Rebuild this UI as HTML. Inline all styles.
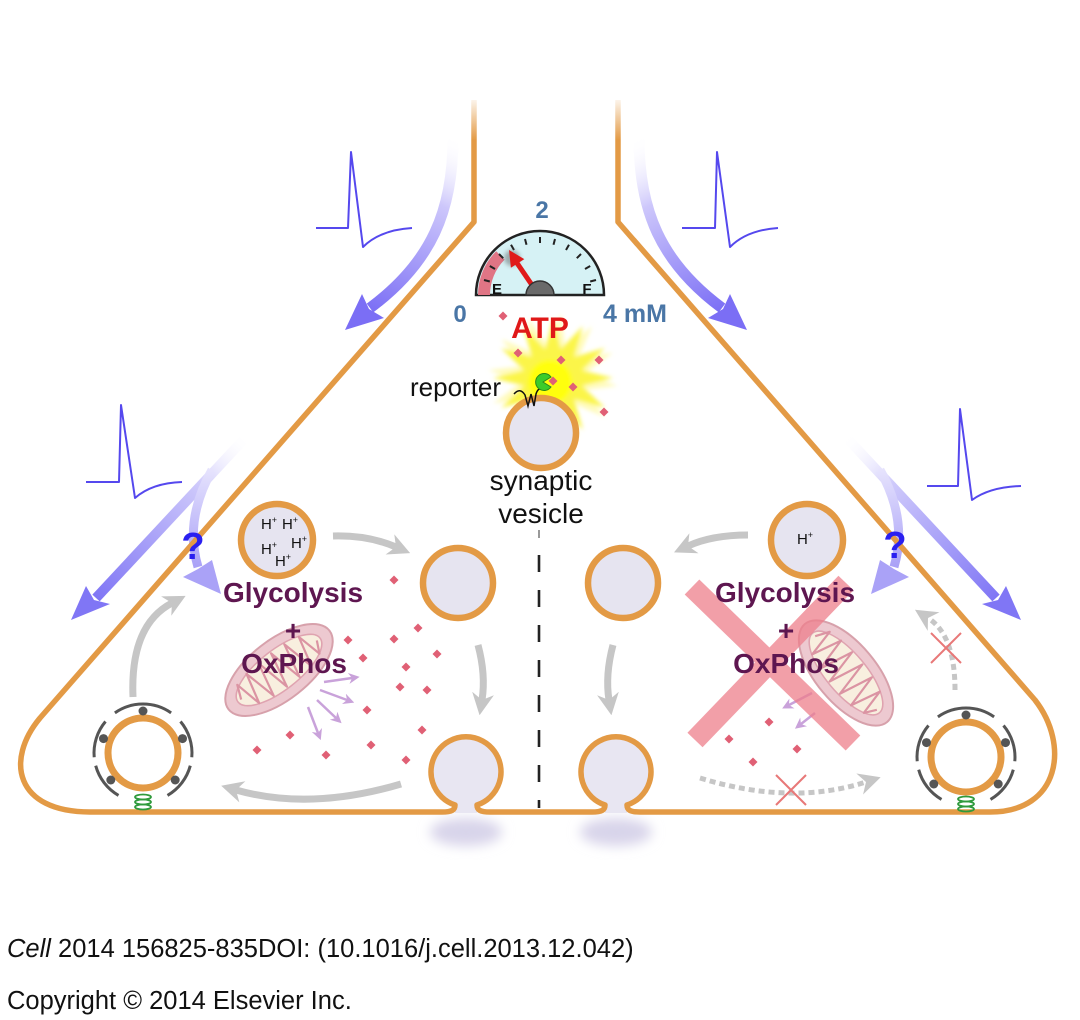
<!DOCTYPE html>
<html><head><meta charset="utf-8">
<style>
html,body{margin:0;padding:0;background:#fff;}
svg{display:block;}
text{font-family:"Liberation Sans",Arial,sans-serif;}
</style></head><body>
<svg width="1080" height="1020" viewBox="0 0 1080 1020" xmlns="http://www.w3.org/2000/svg">
<defs>
  <linearGradient id="gTL" gradientUnits="userSpaceOnUse" x1="453" y1="135" x2="370" y2="312">
    <stop offset="0" stop-color="#ffffff" stop-opacity="0"/>
    <stop offset="0.35" stop-color="#cdc7fb"/>
    <stop offset="1" stop-color="#7b6ef5"/>
  </linearGradient>
  <linearGradient id="gLL" gradientUnits="userSpaceOnUse" x1="247" y1="436" x2="96" y2="598">
    <stop offset="0" stop-color="#ffffff" stop-opacity="0"/>
    <stop offset="0.3" stop-color="#cfcafb"/>
    <stop offset="1" stop-color="#8076f5"/>
  </linearGradient>
  <linearGradient id="gBR" gradientUnits="userSpaceOnUse" x1="212" y1="470" x2="197" y2="566">
    <stop offset="0" stop-color="#e6e3fd"/>
    <stop offset="1" stop-color="#aaa2f7"/>
  </linearGradient>
  <linearGradient id="fadeTop" x1="0" y1="0" x2="0" y2="1">
    <stop offset="0" stop-color="#fff" stop-opacity="1"/>
    <stop offset="1" stop-color="#fff" stop-opacity="0"/>
  </linearGradient>
  <filter id="blur2" x="-50%" y="-50%" width="200%" height="200%"><feGaussianBlur stdDeviation="2"/></filter>
  <filter id="blur6" x="-50%" y="-50%" width="200%" height="200%"><feGaussianBlur stdDeviation="6"/></filter>
  <marker id="mg" markerUnits="userSpaceOnUse" markerWidth="22" markerHeight="22" viewBox="0 0 10 10" refX="3" refY="5" orient="auto">
    <path d="M0,0 L10,5 L0,10 L3,5z" fill="#c6c6c6"/>
  </marker>
  <marker id="mp" markerUnits="userSpaceOnUse" markerWidth="11" markerHeight="11" viewBox="0 0 10 10" refX="3" refY="5" orient="auto">
    <path d="M0,0 L10,5 L0,10 L3,5z" fill="#c9a2da"/>
  </marker>
</defs>

<rect width="1080" height="1020" fill="#fff"/>

<!-- big purple arrows (left) -->
<g>
  <path d="M453,138 C453,210 432,262 370,308" fill="none" stroke="url(#gTL)" stroke-width="11"/>
  <path d="M345,330 L362,294 L369,309 L384,318 Z" fill="#7b6ef5"/>
  <path d="M247,436 L96,598" fill="none" stroke="url(#gLL)" stroke-width="10"/>
  <path d="M71,620 L86,586 L94,600 L110,604 Z" fill="#8076f5"/>
  <path d="M212,470 Q184,520 198,567" fill="none" stroke="url(#gBR)" stroke-width="9"/>
  <path d="M221,594 L183,577 L198,569 L212,560 Z" fill="#aaa2f7"/>
</g>
<!-- mirrored (right) -->
<g transform="matrix(-1 0 0 1 1092 0)">
  <path d="M453,138 C453,210 432,262 370,308" fill="none" stroke="url(#gTL)" stroke-width="11"/>
  <path d="M345,330 L362,294 L369,309 L384,318 Z" fill="#7b6ef5"/>
  <path d="M247,436 L96,598" fill="none" stroke="url(#gLL)" stroke-width="10"/>
  <path d="M71,620 L86,586 L94,600 L110,604 Z" fill="#8076f5"/>
  <path d="M212,470 Q184,520 198,567" fill="none" stroke="url(#gBR)" stroke-width="9"/>
  <path d="M221,594 L183,577 L198,569 L212,560 Z" fill="#aaa2f7"/>
</g>

<!-- action potentials -->
<g fill="none" stroke="#5548ee" stroke-width="2" stroke-linejoin="round">
  <path d="M316,228 H348 L351,152 L363,247 Q380,230 412,228"/>
  <path d="M86,482 H119 L121,405 L135,498 Q152,483 182,482"/>
  <path d="M682,228 H715 L717,152 L730,247 Q747,230 778,228"/>
  <path d="M927,486 H958 L960,409 L972,500 Q990,487 1021,486"/>
</g>

<!-- pit shadows -->
<ellipse cx="466" cy="832" rx="36" ry="14" fill="#d8d4ea" filter="url(#blur6)"/>
<ellipse cx="616" cy="832" rx="36" ry="14" fill="#d8d4ea" filter="url(#blur6)"/>
<!-- omega interiors -->
<circle cx="466" cy="772" r="35" fill="#e8e6f2"/>
<circle cx="616" cy="772" r="35" fill="#e8e6f2"/>
<rect x="455" y="795" width="22" height="18" fill="#e8e6f2"/>
<rect x="605" y="795" width="22" height="18" fill="#e8e6f2"/>

<!-- membrane -->
<path d="M474,100 V222 L40,718 C5,760 15,812 90,812 L442,812 C452,812 455,810 455,805 A35,35 0 1 1 477,805 C477,810 480,812 490,812 L592,812 C602,812 605,810 605,805 A35,35 0 1 1 627,805 C627,810 630,812 640,812 L990,812 C1060,812 1070,745 1035,700 L618,222 V100"
 fill="none" stroke="#e39a45" stroke-width="5.5" stroke-linejoin="round"/>
<rect x="460" y="95" width="30" height="45" fill="url(#fadeTop)"/>
<rect x="603" y="95" width="30" height="45" fill="url(#fadeTop)"/>

<!-- dashed center line -->
<line x1="539" y1="530" x2="539" y2="538" stroke="#999" stroke-width="2"/>
<line x1="539" y1="555" x2="539" y2="808" stroke="#222" stroke-width="2.6" stroke-dasharray="17 18"/>

<!-- gauge -->
<path d="M476,295 A64,64 0 0 1 604,295 Z" fill="#d6f2f5" stroke="#222" stroke-width="2.5"/>
<path d="M478,295 A62,62 0 0 1 496.2,251.2 L504.6,259.6 A50,50 0 0 0 490,295 Z" fill="#e07585"/>
<g stroke="#222" stroke-width="2">
  <line x1="489.8" y1="281.5" x2="484" y2="280"/>
  <line x1="495" y1="269" x2="489.8" y2="266"/>
  <line x1="503.2" y1="258.2" x2="499" y2="254"/>
  <line x1="514" y1="250" x2="511" y2="244.8"/>
  <line x1="526.5" y1="244.8" x2="525" y2="239"/>
  <line x1="540" y1="243" x2="540" y2="237"/>
  <line x1="553.5" y1="244.8" x2="555" y2="239"/>
  <line x1="566" y1="250" x2="569" y2="244.8"/>
  <line x1="576.8" y1="258.2" x2="581" y2="254"/>
  <line x1="585" y1="269" x2="590.2" y2="266"/>
  <line x1="590.2" y1="281.5" x2="596" y2="280"/>
</g>
<circle cx="512" cy="258" r="8" fill="#555" opacity="0.45" filter="url(#blur2)"/>
<line x1="534" y1="288" x2="517" y2="263" stroke="#e01a1a" stroke-width="5"/>
<path d="M509,250 L524.3,259.1 L510.9,267.7 Z" fill="#e01a1a"/>
<path d="M526,295 A14,14 0 0 1 554,295 Z" fill="#6a6a6a" stroke="#333" stroke-width="1.5"/>
<text x="497" y="294" font-size="15" font-weight="bold" text-anchor="middle" fill="#111">E</text>
<text x="587" y="294" font-size="15" font-weight="bold" text-anchor="middle" fill="#111">F</text>
<text x="542" y="218" font-size="24" font-weight="bold" text-anchor="middle" fill="#4a76a6">2</text>
<text x="460" y="322" font-size="24" font-weight="bold" text-anchor="middle" fill="#4a76a6">0</text>
<text x="603" y="322" font-size="25" font-weight="bold" fill="#4a76a6">4 mM</text>

<!-- starburst -->
<g filter="url(#blur2)">
<polygon fill="#fffab0" opacity="0.85" transform="rotate(7 553 378) translate(553 378) scale(1.08) translate(-553 -378)" points="613,378 582,385.8 605,408 574.2,399.2 583,430 560.8,407 553,438 545.2,407 523,430 531.8,399.2 501,408 524,385.8 493,378 524,370.2 501,348 531.8,356.8 523,326 545.2,349 553,318 560.8,349 583,326 574.2,356.8 605,348 582,370.2"/>
<polygon fill="#fbf54a" points="613,378 582,385.8 605,408 574.2,399.2 583,430 560.8,407 553,438 545.2,407 523,430 531.8,399.2 501,408 524,385.8 493,378 524,370.2 501,348 531.8,356.8 523,326 545.2,349 553,318 560.8,349 583,326 574.2,356.8 605,348 582,370.2"/>
<circle cx="550" cy="382" r="22" fill="#ffff10"/>
</g>

<text x="540" y="338" font-size="30" font-weight="bold" text-anchor="middle" fill="#e01818">ATP</text>

<!-- diamonds -->
<g fill="#e06075">
  <path d="M503,311.5 l4.5,4.5 l-4.5,4.5 l-4.5,-4.5z"/>
  <path d="M518,348.5 l4.5,4.5 l-4.5,4.5 l-4.5,-4.5z"/>
  <path d="M561,355.5 l4.5,4.5 l-4.5,4.5 l-4.5,-4.5z"/>
  <path d="M599,355.5 l4.5,4.5 l-4.5,4.5 l-4.5,-4.5z"/>
  <path d="M573,382.5 l4.5,4.5 l-4.5,4.5 l-4.5,-4.5z"/>
  <path d="M604,407.5 l4.5,4.5 l-4.5,4.5 l-4.5,-4.5z"/>
  <path d="M394,575.5 l4.5,4.5 l-4.5,4.5 l-4.5,-4.5z"/>
  <path d="M418,623.5 l4.5,4.5 l-4.5,4.5 l-4.5,-4.5z"/>
  <path d="M394,634.5 l4.5,4.5 l-4.5,4.5 l-4.5,-4.5z"/>
  <path d="M348,635.5 l4.5,4.5 l-4.5,4.5 l-4.5,-4.5z"/>
  <path d="M437,649.5 l4.5,4.5 l-4.5,4.5 l-4.5,-4.5z"/>
  <path d="M363,653.5 l4.5,4.5 l-4.5,4.5 l-4.5,-4.5z"/>
  <path d="M406,662.5 l4.5,4.5 l-4.5,4.5 l-4.5,-4.5z"/>
  <path d="M400,682.5 l4.5,4.5 l-4.5,4.5 l-4.5,-4.5z"/>
  <path d="M427,685.5 l4.5,4.5 l-4.5,4.5 l-4.5,-4.5z"/>
  <path d="M367,705.5 l4.5,4.5 l-4.5,4.5 l-4.5,-4.5z"/>
  <path d="M422,725.5 l4.5,4.5 l-4.5,4.5 l-4.5,-4.5z"/>
  <path d="M290,730.5 l4.5,4.5 l-4.5,4.5 l-4.5,-4.5z"/>
  <path d="M371,740.5 l4.5,4.5 l-4.5,4.5 l-4.5,-4.5z"/>
  <path d="M257,745.5 l4.5,4.5 l-4.5,4.5 l-4.5,-4.5z"/>
  <path d="M326,750.5 l4.5,4.5 l-4.5,4.5 l-4.5,-4.5z"/>
  <path d="M406,755.5 l4.5,4.5 l-4.5,4.5 l-4.5,-4.5z"/>
  <path d="M769,717.5 l4.5,4.5 l-4.5,4.5 l-4.5,-4.5z"/>
  <path d="M729,734.5 l4.5,4.5 l-4.5,4.5 l-4.5,-4.5z"/>
  <path d="M753,757.5 l4.5,4.5 l-4.5,4.5 l-4.5,-4.5z"/>
  <path d="M797,744.5 l4.5,4.5 l-4.5,4.5 l-4.5,-4.5z"/>
</g>

<!-- vesicles -->
<g fill="#e6e4f0" stroke="#e39a45" stroke-width="6.5">
  <circle cx="541" cy="433" r="35"/>
  <circle cx="458" cy="583" r="35"/>
  <circle cx="623" cy="583" r="35"/>
  <circle cx="277" cy="540" r="36"/>
  <circle cx="807" cy="540" r="36"/>
</g>

<!-- reporter -->
<path d="M514,394 Q520,387 525,395 L528,406 L531,394 L534,406 L536,394 Q538,388 541,389" fill="none" stroke="#111" stroke-width="1.5"/>
<path d="M543,382 L551,377 A8.5,8.5 0 1 0 551,387 Z" fill="#3ccc2a" stroke="#2a8a1a" stroke-width="1"/>
<path d="M553,376.5 l4.5,4.5 l-4.5,4.5 l-4.5,-4.5z" fill="#e06075"/>
<text x="410" y="396" font-size="26" fill="#111">reporter</text>

<text x="541" y="490" font-size="28" text-anchor="middle" fill="#111">synaptic</text>
<text x="541" y="523" font-size="28" text-anchor="middle" fill="#111">vesicle</text>

<!-- H+ labels -->
<g font-size="15" fill="#111" text-anchor="middle">
  <text x="269" y="529">H<tspan font-size="9" dy="-6">+</tspan></text>
  <text x="290" y="529">H<tspan font-size="9" dy="-6">+</tspan></text>
  <text x="269" y="554">H<tspan font-size="9" dy="-6">+</tspan></text>
  <text x="299" y="548">H<tspan font-size="9" dy="-6">+</tspan></text>
  <text x="283" y="566">H<tspan font-size="9" dy="-6">+</tspan></text>
  <text x="805" y="544">H<tspan font-size="9" dy="-6">+</tspan></text>
</g>

<!-- mitochondria -->
<g transform="translate(279,670) rotate(-38)" opacity="0.9">
  <ellipse rx="64" ry="30" fill="#ecc4cb" stroke="#d397a3" stroke-width="2"/>
  <ellipse rx="52" ry="20" fill="#f8eedc" stroke="#dc9aa8" stroke-width="1.5"/>
  <polyline points="-48,0 -42,-14 -36,14 -28,-17 -20,17 -12,-18 -4,18 4,-18 12,18 20,-17 28,17 36,-14 42,12 48,0" fill="none" stroke="#d8899a" stroke-width="2.2" stroke-linejoin="round"/>
</g>
<g transform="translate(846,673) rotate(50)" opacity="0.9">
  <ellipse rx="64" ry="30" fill="#ecc4cb" stroke="#d397a3" stroke-width="2"/>
  <ellipse rx="52" ry="20" fill="#f8eedc" stroke="#dc9aa8" stroke-width="1.5"/>
  <polyline points="-48,0 -42,-14 -36,14 -28,-17 -20,17 -12,-18 -4,18 4,-18 12,18 20,-17 28,17 36,-14 42,12 48,0" fill="none" stroke="#d8899a" stroke-width="2.2" stroke-linejoin="round"/>
</g>

<!-- small purple arrows -->
<g fill="none" stroke="#c9a2da" stroke-width="2.5" marker-end="url(#mp)">
  <path d="M324,682 L352,678"/>
  <path d="M320,690 L347,700"/>
  <path d="M317,700 L336,718"/>
  <path d="M308,707 L318,733"/>
  <path d="M812,693 L789,705"/>
  <path d="M815,713 L801,724"/>
</g>

<!-- red X -->
<g stroke="#ee7f8c" stroke-width="21" opacity="0.75">
  <line x1="692" y1="587" x2="853" y2="743"/>
  <line x1="846" y1="583" x2="695" y2="740"/>
</g>

<!-- Glycolysis labels -->
<g font-size="28" font-weight="bold" fill="#5e1650" text-anchor="middle">
  <text x="293" y="602">Glycolysis</text>
  <text x="293" y="640">+</text>
  <text x="294" y="673">OxPhos</text>
  <text x="785" y="602">Glycolysis</text>
  <text x="786" y="640">+</text>
  <text x="786" y="673">OxPhos</text>
</g>

<!-- gray arrows -->
<g fill="none" stroke="#c6c6c6" stroke-width="7" marker-end="url(#mg)">
  <path d="M333,536 Q368,535 396,547"/>
  <path d="M478,645 Q486,675 482,700"/>
  <path d="M401,784 Q310,811 236,790"/>
  <path d="M133,697 Q130,625 172,603"/>
  <path d="M748,535 Q712,535 688,546"/>
  <path d="M613,645 Q605,675 609,700"/>
</g>
<g fill="none" stroke="#c6c6c6" stroke-width="5" stroke-dasharray="6 4" marker-end="url(#mg)">
  <path d="M700,778 Q791,806 866,782"/>
  <path d="M955,690 Q955,635 928,618"/>
</g>
<g stroke="#e87878" stroke-width="2">
  <line x1="776" y1="775" x2="806" y2="805"/>
  <line x1="806" y1="775" x2="776" y2="805"/>
  <line x1="931" y1="633" x2="961" y2="663"/>
  <line x1="961" y1="633" x2="931" y2="663"/>
</g>

<!-- clathrin vesicles -->
<g transform="translate(143,753)">
  <circle r="35" fill="#fff" stroke="#e39a45" stroke-width="7"/>
  <g fill="none" stroke="#555" stroke-width="3">
    <path d="M-28.1,-40.1 A49,49 0 0 1 28.1,-40.1"/>
    <path d="M37.5,-31.5 A49,49 0 0 1 48.8,4.3"/>
    <path d="M47.3,12.7 A49,49 0 0 1 24.5,42.4"/>
    <path d="M-24.5,42.4 A49,49 0 0 1 -47.3,12.7"/>
    <path d="M-48.8,4.3 A49,49 0 0 1 -37.5,-31.5"/>
  </g>
  <g fill="#555">
    <circle cx="0" cy="-42" r="4.5"/><circle cx="39.5" cy="-14.4" r="4.5"/><circle cx="32.2" cy="27" r="4.5"/>
    <circle cx="-32.2" cy="27" r="4.5"/><circle cx="-39.5" cy="-14.4" r="4.5"/>
  </g>
  <g fill="none" stroke="#2f9a3c" stroke-width="1.8">
    <ellipse cx="0" cy="44" rx="8" ry="2.5"/><ellipse cx="0" cy="49" rx="8" ry="2.5"/><ellipse cx="0" cy="54" rx="8" ry="2.5"/>
  </g>
</g>
<g transform="translate(966,757)">
  <circle r="35" fill="#fff" stroke="#e39a45" stroke-width="7"/>
  <g fill="none" stroke="#555" stroke-width="3">
    <path d="M-28.1,-40.1 A49,49 0 0 1 28.1,-40.1"/>
    <path d="M37.5,-31.5 A49,49 0 0 1 48.8,4.3"/>
    <path d="M47.3,12.7 A49,49 0 0 1 24.5,42.4"/>
    <path d="M-24.5,42.4 A49,49 0 0 1 -47.3,12.7"/>
    <path d="M-48.8,4.3 A49,49 0 0 1 -37.5,-31.5"/>
  </g>
  <g fill="#555">
    <circle cx="0" cy="-42" r="4.5"/><circle cx="39.5" cy="-14.4" r="4.5"/><circle cx="32.2" cy="27" r="4.5"/>
    <circle cx="-32.2" cy="27" r="4.5"/><circle cx="-39.5" cy="-14.4" r="4.5"/>
  </g>
  <g fill="none" stroke="#2f9a3c" stroke-width="1.8">
    <ellipse cx="0" cy="42" rx="8" ry="2.5"/><ellipse cx="0" cy="47" rx="8" ry="2.5"/><ellipse cx="0" cy="52" rx="8" ry="2.5"/>
  </g>
</g>

<!-- question marks -->
<text x="193" y="559" font-size="38" font-weight="bold" text-anchor="middle" fill="#2a1ff0">?</text>
<text x="895" y="558" font-size="38" font-weight="bold" text-anchor="middle" fill="#2a1ff0">?</text>

<!-- footer -->
<text x="7" y="957" font-size="25.5" fill="#111"><tspan font-style="italic">Cell</tspan> 2014 156825-835DOI: (10.1016/j.cell.2013.12.042)</text>
<text x="7" y="1009" font-size="25.5" fill="#111">Copyright © 2014 Elsevier Inc.</text>
</svg>
</body></html>
